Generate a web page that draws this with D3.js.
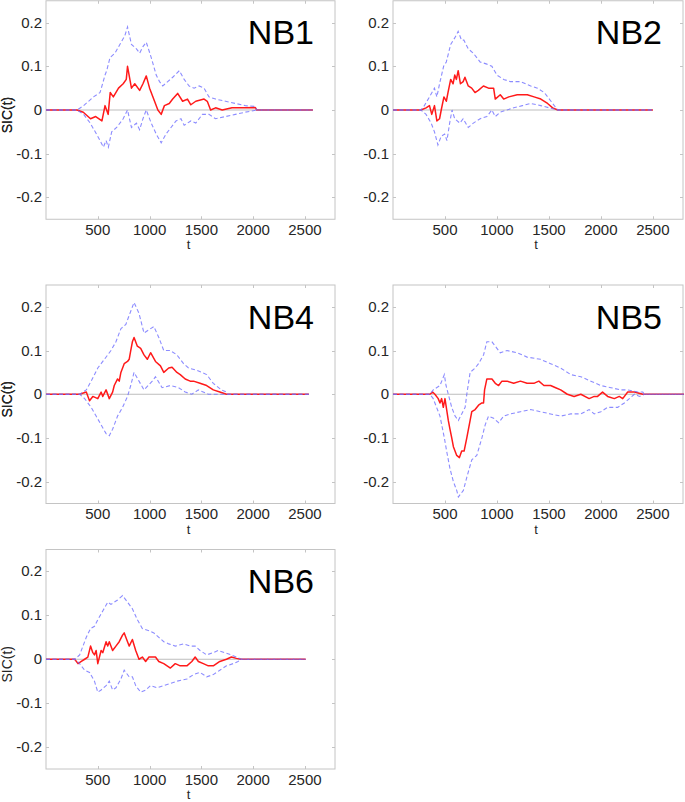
<!DOCTYPE html>
<html>
<head>
<meta charset="utf-8">
<script src="https://cdn.jsdelivr.net/npm/d3@7"></script>
<style>
  html, body { margin: 0; padding: 0; background: #fff; }
  svg { display: block; }
  text { font-family: "Liberation Sans", Arial, Helvetica, sans-serif; }
</style>
</head>
<body>
<svg id="chart" width="685" height="802"></svg>
<script>
// ---------------- data ----------------
const panelNames = ["NB1", "NB2", "NB4", "NB5", "NB6"];
const xTicks = [500, 1000, 1500, 2000, 2500];
const xTickLabels = ["500", "1000", "1500", "2000", "2500"];
const yTicks = [-0.2, -0.1, 0, 0.1, 0.2];
const yTickLabels = ["-0.2", "-0.1", "0", "0.1", "0.2"];
const xLabel = "t";
const yLabel = "SIC(t)";

// [t, SIC] pairs
const nb1Mean = [[0,0],[300,0],[360,-0.005],[430,-0.02],[480,-0.015],[540,-0.025],[570,0.01],[600,-0.01],[620,0.04],[650,0.03],[700,0.05],[745,0.06],[775,0.07],[787,0.1],[825,0.05],[857,0.06],[904,0.045],[936,0.06],[968,0.078],[1000,0.05],[1048,0.02],[1080,0],[1112,-0.01],[1143,0.01],[1190,0.015],[1223,0.025],[1271,0.038],[1319,0.02],[1366,0.025],[1398,0.012],[1446,0.02],[1526,0.025],[1557,0.02],[1589,0],[1637,0.005],[1701,0],[1796,0.005],[1924,0.005],[2019,0.006],[2035,0],[2577,0]];
const nb1Upper = [[0,0],[300,0],[363,0.01],[459,0.03],[522,0.04],[570,0.08],[586,0.09],[618,0.12],[666,0.13],[713,0.15],[761,0.17],[787,0.19],[825,0.15],[873,0.14],[904,0.13],[936,0.145],[968,0.155],[1016,0.12],[1064,0.08],[1096,0.065],[1127,0.055],[1175,0.065],[1223,0.075],[1287,0.09],[1334,0.07],[1382,0.055],[1430,0.05],[1478,0.055],[1526,0.05],[1573,0.03],[1637,0.025],[1733,0.02],[1828,0.015],[1924,0.01],[2019,0.008],[2035,0],[2577,0]];
const nb1Lower = [[0,0],[300,0],[363,-0.01],[427,-0.03],[475,-0.05],[522,-0.07],[554,-0.085],[580,-0.07],[602,-0.085],[634,-0.05],[682,-0.04],[745,-0.02],[787,0],[825,-0.04],[873,-0.03],[904,-0.045],[936,-0.02],[968,0],[1016,-0.03],[1064,-0.055],[1112,-0.075],[1159,-0.055],[1207,-0.04],[1255,-0.025],[1303,-0.02],[1334,-0.035],[1398,-0.025],[1446,-0.03],[1510,-0.01],[1573,-0.01],[1637,-0.02],[1733,-0.015],[1828,-0.01],[1924,-0.005],[2035,0],[2577,0]];

const nb2Mean = [[0,0],[269,0],[318,0.005],[351,0.01],[373,-0.01],[399,0.01],[422,-0.025],[448,-0.02],[464,0],[490,0.03],[513,0.02],[529,0.04],[555,0.07],[578,0.06],[594,0.08],[610,0.07],[627,0.09],[649,0.06],[675,0.065],[692,0.075],[724,0.055],[757,0.05],[789,0.04],[821,0.045],[870,0.055],[919,0.05],[968,0.05],[984,0.025],[1032,0.035],[1065,0.025],[1114,0.03],[1195,0.035],[1292,0.035],[1357,0.03],[1422,0.025],[1487,0.015],[1536,0.005],[1585,0],[2500,0]];
const nb2Upper = [[0,0],[269,0],[302,0.01],[351,0.03],[399,0.05],[422,0.03],[448,0.06],[487,0.1],[513,0.11],[555,0.15],[594,0.165],[627,0.18],[659,0.16],[682,0.16],[724,0.14],[773,0.13],[838,0.11],[903,0.105],[951,0.1],[1000,0.08],[1065,0.07],[1130,0.065],[1227,0.065],[1325,0.055],[1390,0.05],[1455,0.04],[1520,0.02],[1568,0.005],[1585,0],[2500,0]];
const nb2Lower = [[0,0],[269,0],[318,-0.01],[367,-0.03],[399,-0.05],[432,-0.08],[464,-0.06],[497,-0.055],[519,-0.07],[545,-0.03],[568,0],[594,-0.02],[643,-0.03],[675,-0.02],[724,-0.04],[773,-0.03],[838,-0.02],[903,-0.015],[951,0],[984,-0.015],[1032,-0.005],[1097,0],[1162,0.005],[1244,0.01],[1325,0.015],[1422,0.01],[1503,0.005],[1585,0],[2500,0]];

const nb4Mean = [[0,0],[325,0],[389,0.005],[420,-0.015],[452,-0.005],[500,-0.01],[532,0.005],[548,-0.005],[580,0.01],[611,-0.01],[643,0.005],[659,0.02],[691,0.035],[707,0.03],[723,0.05],[755,0.07],[787,0.075],[803,0.08],[818,0.1],[834,0.12],[850,0.13],[882,0.11],[914,0.105],[946,0.09],[978,0.08],[1010,0.095],[1057,0.075],[1105,0.065],[1137,0.05],[1185,0.06],[1217,0.062],[1264,0.05],[1296,0.045],[1344,0.035],[1392,0.03],[1424,0.03],[1487,0.025],[1551,0.02],[1615,0.01],[1678,0.005],[1742,0],[2538,0]];
const nb4Upper = [[0,0],[325,0],[389,0.01],[436,0.03],[500,0.06],[564,0.08],[627,0.1],[675,0.12],[723,0.15],[771,0.16],[818,0.19],[850,0.21],[898,0.185],[946,0.14],[1041,0.155],[1089,0.13],[1137,0.1],[1201,0.1],[1264,0.09],[1328,0.07],[1376,0.06],[1455,0.055],[1551,0.045],[1615,0.025],[1694,0.01],[1742,0.005],[1758,0],[2538,0]];
const nb4Lower = [[0,0],[325,0],[373,-0.01],[436,-0.03],[484,-0.05],[532,-0.07],[580,-0.09],[611,-0.095],[643,-0.08],[691,-0.05],[739,-0.03],[787,-0.005],[818,0.02],[850,0.05],[898,0.03],[946,0.01],[1026,0.03],[1057,0.04],[1121,0.015],[1201,0.02],[1280,0.015],[1344,0.005],[1408,0],[1471,0.01],[1567,0],[1758,0],[2538,0]];

const nb5Mean = [[0,0],[355,0],[381,0.005],[403,0],[435,-0.01],[452,-0.02],[468,-0.01],[484,-0.03],[500,-0.01],[532,-0.06],[548,-0.08],[565,-0.1],[581,-0.12],[613,-0.14],[639,-0.145],[661,-0.13],[684,-0.13],[710,-0.1],[742,-0.06],[758,-0.04],[790,-0.035],[823,-0.025],[855,-0.02],[871,-0.02],[881,0.01],[903,0.035],[952,0.035],[984,0.025],[1016,0.02],[1048,0.03],[1097,0.03],[1161,0.025],[1226,0.03],[1290,0.025],[1355,0.025],[1403,0.03],[1452,0.02],[1516,0.02],[1565,0.015],[1613,0.01],[1677,0],[1742,-0.005],[1807,0],[1887,-0.01],[1936,-0.005],[1968,-0.005],[2016,0.005],[2065,-0.005],[2129,-0.01],[2177,-0.005],[2210,-0.01],[2258,0.005],[2323,0.005],[2403,0],[2800,0]];
const nb5Upper = [[0,0],[355,0],[387,0.01],[419,0.015],[452,0.02],[494,0.045],[510,0.02],[532,0],[565,-0.03],[597,-0.05],[629,-0.06],[661,-0.045],[694,-0.03],[710,0],[742,0.05],[790,0.06],[823,0.07],[871,0.09],[903,0.12],[952,0.12],[984,0.11],[1032,0.095],[1097,0.1],[1194,0.095],[1290,0.085],[1419,0.08],[1516,0.07],[1613,0.06],[1710,0.045],[1807,0.04],[1903,0.03],[2000,0.02],[2097,0.015],[2194,0.01],[2258,0.01],[2355,0.005],[2403,0.005],[2419,0],[2800,0]];
const nb5Lower = [[0,0],[355,0],[387,-0.01],[419,-0.03],[452,-0.05],[494,-0.1],[516,-0.13],[548,-0.17],[581,-0.2],[613,-0.22],[629,-0.235],[677,-0.22],[710,-0.19],[758,-0.15],[806,-0.14],[855,-0.1],[887,-0.07],[919,-0.05],[968,-0.055],[1016,-0.065],[1065,-0.05],[1129,-0.045],[1226,-0.04],[1323,-0.035],[1419,-0.04],[1516,-0.045],[1613,-0.05],[1710,-0.045],[1807,-0.045],[1887,-0.035],[1936,-0.045],[2000,-0.04],[2065,-0.03],[2161,-0.03],[2226,-0.02],[2274,-0.01],[2323,0],[2371,-0.005],[2419,0],[2800,0]];

const nb6Mean = [[0,0],[277,0],[309,-0.01],[341,-0.005],[373,0],[404,0.005],[430,0.03],[452,0.015],[468,0.01],[484,0.02],[500,-0.01],[532,0.02],[548,0.015],[580,0.04],[596,0.03],[611,0.04],[643,0.02],[675,0.03],[707,0.04],[739,0.055],[755,0.06],[787,0.04],[803,0.03],[834,0.045],[866,0.02],[898,0],[930,0.005],[962,-0.005],[994,0.005],[1057,0.005],[1089,-0.005],[1137,-0.01],[1169,-0.015],[1201,-0.02],[1248,-0.01],[1296,-0.015],[1360,-0.015],[1408,-0.005],[1440,0.005],[1471,-0.005],[1519,-0.01],[1567,-0.015],[1615,-0.015],[1678,-0.005],[1742,0],[1790,0.005],[1838,0.002],[1885,0],[2507,0]];
const nb6Upper = [[0,0],[277,0],[325,0.01],[357,0.03],[389,0.05],[430,0.07],[468,0.075],[500,0.09],[548,0.11],[596,0.13],[627,0.125],[691,0.135],[739,0.145],[787,0.13],[834,0.115],[882,0.09],[930,0.07],[994,0.065],[1041,0.06],[1089,0.05],[1137,0.04],[1185,0.035],[1248,0.03],[1328,0.035],[1392,0.03],[1440,0.03],[1487,0.02],[1551,0.01],[1615,0.015],[1663,0.02],[1726,0.015],[1790,0.01],[1838,0.005],[1885,0],[2507,0]];
const nb6Lower = [[0,0],[277,0],[325,-0.01],[373,-0.025],[420,-0.03],[468,-0.05],[500,-0.075],[532,-0.07],[580,-0.06],[611,-0.05],[643,-0.07],[675,-0.065],[723,-0.045],[755,-0.025],[803,-0.04],[834,-0.04],[866,-0.06],[914,-0.075],[962,-0.07],[1010,-0.06],[1073,-0.065],[1137,-0.06],[1201,-0.055],[1264,-0.05],[1360,-0.045],[1424,-0.035],[1487,-0.03],[1551,-0.04],[1615,-0.035],[1678,-0.025],[1742,-0.015],[1806,-0.01],[1854,-0.005],[1885,0],[2507,0]];

const meanSeries = [nb1Mean, nb2Mean, nb4Mean, nb5Mean, nb6Mean];
const upperSeries = [nb1Upper, nb2Upper, nb4Upper, nb5Upper, nb6Upper];
const lowerSeries = [nb1Lower, nb2Lower, nb4Lower, nb5Lower, nb6Lower];

// ---------------- layout ----------------
const xDomain = [0, 2790];
const yDomain = [-0.25, 0.25];
const panelBoxes = [
  { left: 46,  top: 0.75, width: 289, height: 218.5 },
  { left: 393, top: 0.75, width: 290, height: 218.5 },
  { left: 46,  top: 285,  width: 289, height: 218.5 },
  { left: 393, top: 285,  width: 290, height: 218.5 },
  { left: 46,  top: 549.5, width: 289, height: 219.5 }
];

const svg = d3.select("#chart");
const axisColor = "#c4c4c4";
const textColor = "#262626";
const tickLen = 3;

panelNames.forEach((name, i) => {
  const b = panelBoxes[i];
  const x = d3.scaleLinear().domain(xDomain).range([b.left, b.left + b.width]);
  const y = d3.scaleLinear().domain(yDomain).range([b.top + b.height, b.top]);
  const g = svg.append("g");

  // box
  g.append("rect")
    .attr("x", b.left).attr("y", b.top)
    .attr("width", b.width).attr("height", b.height)
    .attr("fill", "none").attr("stroke", axisColor).attr("stroke-width", 1);

  // ticks (inside, on all sides)
  xTicks.forEach(t => {
    const px = Math.round(x(t)) + 0.5;
    g.append("line").attr("x1", px).attr("x2", px)
      .attr("y1", b.top + b.height).attr("y2", b.top + b.height - tickLen)
      .attr("stroke", axisColor);
    g.append("line").attr("x1", px).attr("x2", px)
      .attr("y1", b.top).attr("y2", b.top + tickLen)
      .attr("stroke", axisColor);
  });
  yTicks.forEach(v => {
    const py = Math.round(y(v)) + 0.5;
    g.append("line").attr("x1", b.left).attr("x2", b.left + tickLen)
      .attr("y1", py).attr("y2", py).attr("stroke", axisColor);
    g.append("line").attr("x1", b.left + b.width).attr("x2", b.left + b.width - tickLen)
      .attr("y1", py).attr("y2", py).attr("stroke", axisColor);
  });

  // tick labels
  xTicks.forEach((t, k) => {
    g.append("text").attr("x", x(t)).attr("y", b.top + b.height + 15.5)
      .attr("text-anchor", "middle").attr("font-size", 15)
      .attr("fill", textColor).text(xTickLabels[k]);
  });
  yTicks.forEach((v, k) => {
    g.append("text").attr("x", b.left - 4).attr("y", y(v) + 5)
      .attr("text-anchor", "end").attr("font-size", 15)
      .attr("fill", textColor).text(yTickLabels[k]);
  });

  // axis labels
  g.append("text").attr("x", x((xDomain[0] + xDomain[1]) / 2) - 2)
    .attr("y", b.top + b.height + 30)
    .attr("text-anchor", "middle").attr("font-size", 13)
    .attr("fill", textColor).text(xLabel);
  const yc = b.top + b.height / 2 + 5;
  g.append("text")
    .attr("transform", `translate(12,${yc}) rotate(-90)`)
    .attr("text-anchor", "middle").attr("font-size", 14)
    .attr("fill", textColor).text(yLabel);

  // lines
  const line = d3.line().x(d => x(d[0])).y(d => y(d[1]));
  const mean = meanSeries[i];
  const tEnd = mean[mean.length - 1][0];

  g.append("path")
    .datum([[0, 0], [tEnd, 0]])
    .attr("d", line).attr("fill", "none")
    .attr("stroke", "#bdbdbd").attr("stroke-width", 1);

  g.append("path").datum(mean).attr("d", line)
    .attr("fill", "none").attr("stroke", "#ff1a1a")
    .attr("stroke-width", 1.5).attr("stroke-linejoin", "round");

  [upperSeries[i], lowerSeries[i]].forEach(s => {
    g.append("path").datum(s).attr("d", line)
      .attr("fill", "none").attr("stroke", "#6f6fff")
      .attr("stroke-opacity", 0.8)
      .attr("stroke-width", 1.1)
      .attr("stroke-dasharray", "4,2.5");
  });

  // panel title
  g.append("text").attr("x", b.left + b.width - 21).attr("y", b.top + 43.5)
    .attr("text-anchor", "end").attr("font-size", 34)
    .attr("fill", "#000").text(name);
});
</script>
</body>
</html>
